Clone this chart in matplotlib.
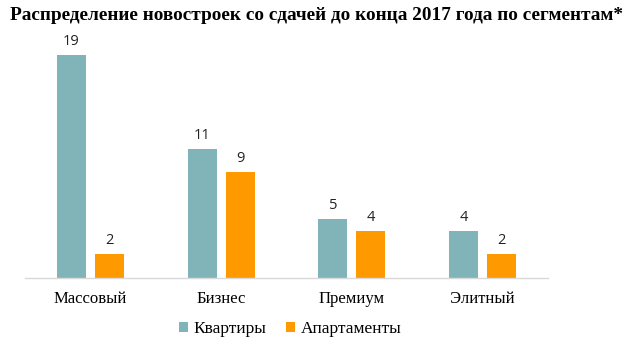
import matplotlib
matplotlib.use("Agg")
import matplotlib.pyplot as plt
import numpy as np

categories = ["Массовый", "Бизнес", "Премиум", "Элитный"]
kvartiry = [19, 11, 5, 4]
apartamenty = [2, 9, 4, 2]
series_names = ["Квартиры", "Апартаменты"]
colors = ["#80B4B8", "#FF9900"]

W, H = 633, 351
fig = plt.figure(figsize=(W/100, H/100), dpi=100)
ax = fig.add_axes([25/W, 1-277.5/H, (548-25)/W, (277.5-43)/H])

x = np.arange(len(categories))
bw = 0.222
gap = 0.068
off = (bw + gap) / 2
b1 = ax.bar(x - off, kvartiry, bw, color=colors[0], label=series_names[0])
b2 = ax.bar(x + off, apartamenty, bw, color=colors[1], label=series_names[1])
for bars, vals in ((b1, kvartiry), (b2, apartamenty)):
    for r, v in zip(bars, vals):
        ax.annotate(str(v), (r.get_x() + r.get_width()/2, v), xytext=(0, 4),
                    textcoords="offset points", ha="center", va="bottom",
                    fontsize=10.5, family="Open Sans", color="#222222")

ax.set_xlim(-0.5, len(categories) - 0.5)
ax.set_ylim(0, 20)
ax.set_yticks([])
ax.set_xticks(x)
ax.set_xticklabels(categories, family="Liberation Serif", fontsize=12)
ax.tick_params(axis="x", length=0, pad=10)
for s in ("top", "right", "left"):
    ax.spines[s].set_visible(False)
ax.spines["bottom"].set_color("#D9D9D9")
ax.spines["bottom"].set_linewidth(1)

fig.text(0.5, 1-16/H, "Распределение новостроек со сдачей до конца 2017 года по сегментам*",
         ha="center", va="center", family="Liberation Serif", fontweight="bold",
         fontsize=13.9, color="black")

leg = fig.legend(handles=[b1, b2], loc="center", bbox_to_anchor=(290/W, 1-329/H),
                 ncol=2, frameon=False, prop={"family": "Liberation Serif", "size": 12.5},
                 handlelength=0.55, handleheight=0.55, handletextpad=0.3, columnspacing=1.1)

fig.savefig("out.png", dpi=100)
